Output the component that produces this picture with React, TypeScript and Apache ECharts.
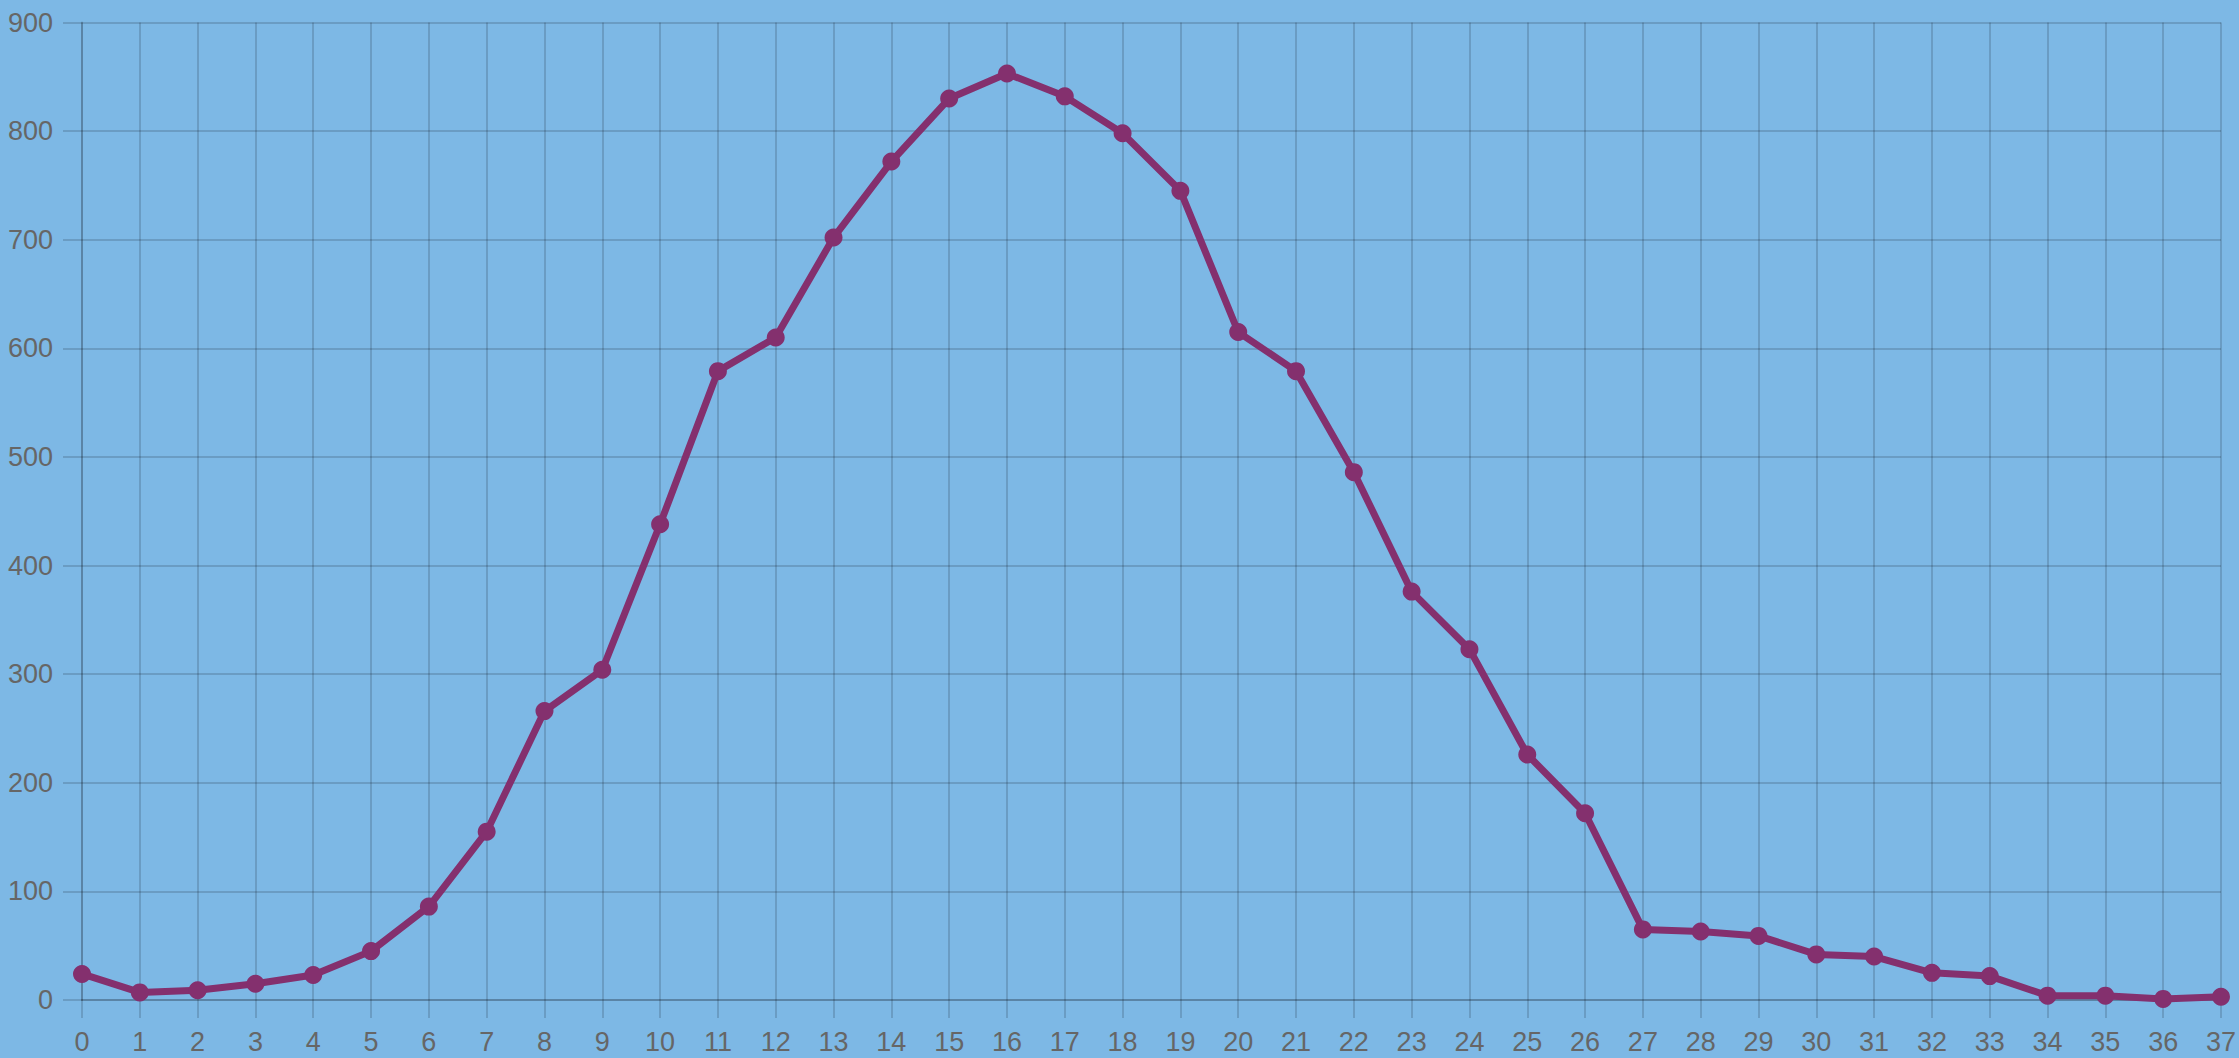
import React, { useEffect, useRef } from "react";
import * as echarts from "echarts";

const categories: string[] = Array.from({ length: 38 }, (_, i) => String(i));
const values: number[] = [
  24, 7, 9, 15, 23, 45, 86, 155, 266, 304, 438, 579, 610, 702, 772, 830, 853, 832, 798,
  745, 615, 579, 486, 376, 323, 226, 172, 65, 63, 59, 42, 40, 25, 22, 4, 4, 1, 3,
];
const yTicks = { min: 0, max: 900, interval: 100 };

const BG = "#7db8e5";
const GRID = "rgba(0,0,0,0.15)";
const LINE = "#84306e";
const TEXT = "#666666";
const FONT = "'Liberation Sans', Arial, Helvetica, sans-serif";

export default function App() {
  const ref = useRef<HTMLDivElement>(null);
  useEffect(() => {
    document.body.style.margin = "0";
    if (!ref.current) return;
    const chart = echarts.init(ref.current, undefined, { renderer: "svg" });
    chart.setOption({
      animation: false,
      backgroundColor: BG,
      grid: { left: 82, right: 16, top: 22.5, bottom: 58, containLabel: false },
      xAxis: {
        type: "category",
        data: categories,
        boundaryGap: false,
        axisLine: { show: true, lineStyle: { color: GRID, width: 2 } },
        axisTick: { show: true, length: 18, alignWithLabel: true, lineStyle: { color: GRID, width: 2 } },
        splitLine: { show: true, lineStyle: { color: GRID, width: 2 } },
        axisLabel: { color: TEXT, fontSize: 27, fontFamily: FONT, margin: 28, interval: 0 },
      },
      yAxis: {
        type: "value",
        min: yTicks.min,
        max: yTicks.max,
        interval: yTicks.interval,
        axisLine: { show: true, lineStyle: { color: GRID, width: 2 } },
        axisTick: { show: true, length: 19, lineStyle: { color: GRID, width: 2 } },
        splitLine: { show: true, lineStyle: { color: GRID, width: 2 } },
        axisLabel: { color: TEXT, fontSize: 27, fontFamily: FONT, margin: 29 },
      },
      series: [
        {
          type: "line",
          data: values,
          symbol: "circle",
          symbolSize: 18,
          showSymbol: true,
          lineStyle: { color: LINE, width: 7 },
          itemStyle: { color: LINE, borderWidth: 0 },
          z: 5,
        },
      ],
    });
    return () => chart.dispose();
  }, []);
  return (
    <div
      ref={ref}
      style={{ position: "fixed", left: 0, top: 0, width: 2239, height: 1058 }}
    />
  );
}
